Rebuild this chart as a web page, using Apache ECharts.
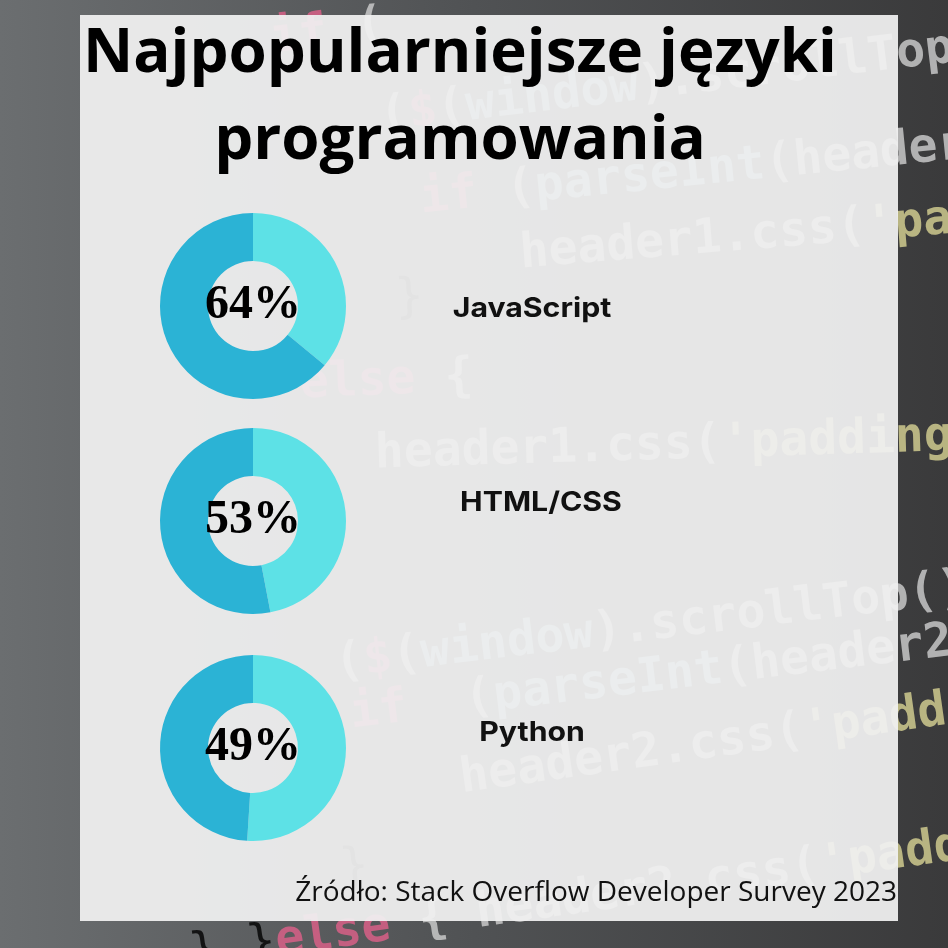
<!DOCTYPE html>
<html>
<head>
<meta charset="utf-8">
<script src="https://cdn.jsdelivr.net/npm/echarts@6/dist/echarts.min.js"></script>
<style>
  html, body { margin: 0; padding: 0; background: #4a4c4e; }
  #chart { width: 948px; height: 948px; }
</style>
</head>
<body>
<div id="chart"></div>
<script>
// Dane z ankiety
const languages = ['JavaScript', 'HTML/CSS', 'Python'];
const shares = [64, 53, 49];
const titleLines = ['Najpopularniejsze języki', 'programowania'];
const sourceText = 'Źródło: Stack Overflow Developer Survey 2023';

const colorMain = '#2bb3d5';
const colorRest = '#5de1e6';

// Układ
const centersY = [306, 521, 748];
const labelPos = [[532, 309], [541, 503], [532, 733]];

// Tło z kodem (dekoracja)
const codeLines = [
  { x: 270, y: 40, r: 0.12, s: '{p|if} {w|(}' },
  { x: 380, y: 118, r: 0.12, s: '{w|(}{p|$}{w|(}{b|window}{w|).scrollTop()}' },
  { x: 420, y: 200, r: 0.1, s: '{p|if} {w|(}{b|parseInt}{w|(header1.css}' },
  { x: 520, y: 255, r: 0.08, s: '{w|header1.css(}{y|\'padding}' },
  { x: 395, y: 300, r: 0.05, s: '{w|}}' },
  { x: 300, y: 385, r: 0.04, s: '{p|else} {w|{}' },
  { x: 375, y: 455, r: 0.03, s: '{w|header1.css(}{y|\'padding-top}' },
  { x: 335, y: 665, r: 0.12, s: '{w|(}{p|$}{w|(}{b|window}{w|).scrollTop()} {p|>} {w|he}' },
  { x: 350, y: 715, r: 0.12, s: '{p|if}  {w|(}{b|parseInt}{w|(header2.css(\'}' },
  { x: 460, y: 780, r: 0.14, s: '{w|header2.css(}{y|\'padding-to}' },
  { x: 340, y: 870, r: 0.1, s: '{w|}}' },
  { x: 190, y: 955, r: 0.14, s: '{w|}} }{p|else} {w|{ header2.css(}{y|\'padding-top\',}' }
];

const chart = echarts.init(document.getElementById('chart'));

const codeStyle = {
  fontFamily: 'DejaVu Sans Mono',
  fontSize: 48,
  fontWeight: 'bold'
};
const codeRich = {
  w: Object.assign({ fill: '#d0d0d0' }, codeStyle),
  p: Object.assign({ fill: '#e0608a' }, codeStyle),
  b: Object.assign({ fill: '#a6d6e4' }, codeStyle),
  y: Object.assign({ fill: '#d8d394' }, codeStyle)
};

const graphics = [];
graphics.push({
  type: 'rect', z: 0,
  shape: { x: 0, y: 0, width: 948, height: 948 },
  style: {
    fill: new echarts.graphic.LinearGradient(0, 0, 1, 0, [
      { offset: 0, color: '#6b6e70' },
      { offset: 0.5, color: '#505254' },
      { offset: 1, color: '#3a3a3b' }
    ])
  }
});
codeLines.forEach(function (c) {
  graphics.push({
    type: 'text', x: c.x, y: c.y, rotation: c.r, z: 0,
    style: { text: c.s, rich: codeRich, fontFamily: 'DejaVu Sans Mono', fontSize: 48, verticalAlign: 'middle', opacity: 0.8 }
  });
});
graphics.push({
  type: 'rect', z: 1,
  shape: { x: 80, y: 15, width: 818, height: 906 },
  style: { fill: 'rgba(240,240,240,0.94)' }
});
titleLines.forEach(function (t, i) {
  graphics.push({
    type: 'text', z: 5, x: 460, y: 55 + i * 87, scaleX: 1.03,
    style: {
      text: t, fill: '#000', fontFamily: 'Open Sans', fontWeight: 'bold', fontSize: 60,
      align: 'center', verticalAlign: 'middle'
    }
  });
});
languages.forEach(function (name, i) {
  graphics.push({
    type: 'text', z: 5, x: labelPos[i][0], y: labelPos[i][1], scaleX: 1.12,
    style: {
      text: name, fill: '#111', fontFamily: 'Inter', fontWeight: 'bold', fontSize: 27,
      align: 'center', verticalAlign: 'middle'
    }
  });
});
graphics.push({
  type: 'text', z: 5, x: 897, y: 893,
  style: {
    text: sourceText, fill: '#111', fontFamily: 'Open Sans', fontSize: 28,
    align: 'right', verticalAlign: 'middle'
  }
});

const series = shares.map(function (v, i) {
  return {
    type: 'pie',
    z: 3,
    center: [253, centersY[i]],
    radius: [45, 93],
    startAngle: 90,
    clockwise: true,
    silent: true,
    label: { show: false },
    labelLine: { show: false },
    emphasis: { disabled: true },
    data: [
      { name: languages[i] + ' rest', value: 100 - v, itemStyle: { color: colorRest } },
      {
        name: languages[i], value: v, itemStyle: { color: colorMain },
        label: {
          show: true, position: 'center', formatter: '{c}%',
          fontFamily: 'Liberation Serif', fontWeight: 'bold', fontSize: 48, color: '#000',
          padding: [4, 0, 0, 0]
        }
      }
    ]
  };
});

chart.setOption({
  backgroundColor: '#4a4c4e',
  animation: false,
  graphic: graphics,
  series: series
});
</script>
</body>
</html>
